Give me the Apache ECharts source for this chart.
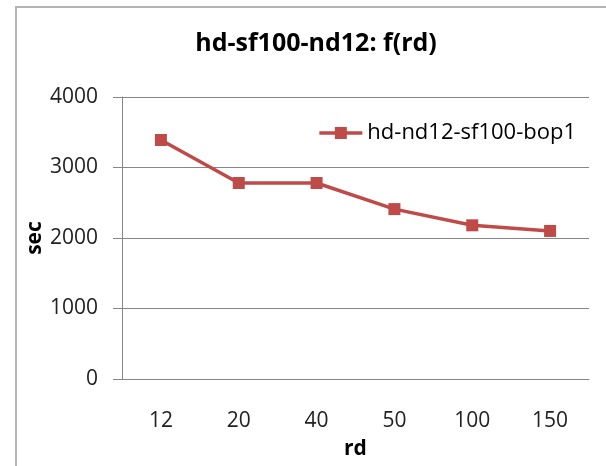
<!DOCTYPE html>
<html>
<head>
<meta charset="utf-8">
<script src="https://cdn.jsdelivr.net/npm/echarts@6/dist/echarts.min.js"></script>
<style>
  html, body { margin: 0; padding: 0; background: #fff; }
  #chart { width: 606px; height: 466px; }
</style>
</head>
<body>
<div id="chart"></div>
<script>
const categories = ["12", "20", "40", "50", "100", "150"];
const seriesName = "hd-nd12-sf100-bop1";
const seriesValues = [3390, 2780, 2780, 2410, 2180, 2100];
const yTicks = [0, 1000, 2000, 3000, 4000];

const lineColor = "#BE4B48";
const gridColor = "#868686";
const font = "'Open Sans', sans-serif";

const chart = echarts.init(document.getElementById("chart"), null, { renderer: "canvas" });

chart.setOption({
  backgroundColor: "#fff",
  animation: false,
  graphic: [{
    type: "rect",
    shape: { x: 16, y: 7, width: 640, height: 520 },
    style: { fill: "none", stroke: "#b4b4b4", lineWidth: 2 },
    silent: true
  }],
  title: {
    text: "hd-sf100-nd12: f(rd)",
    left: 311,
    textAlign: "center",
    top: 26,
    textStyle: { fontFamily: font, fontWeight: "bold", fontSize: 25, color: "#000" }
  },
  legend: {
    data: [seriesName],
    right: 25,
    top: 117,
    itemWidth: 43,
    itemHeight: 15,
    lineStyle: { width: 3.5 },
    textStyle: { fontFamily: font, fontSize: 22, color: "#000" }
  },
  grid: { left: 122, right: 17, top: 97, bottom: 87, outerBoundsMode: "none" },
  xAxis: {
    type: "category",
    data: categories,
    boundaryGap: true,
    name: "rd",
    nameLocation: "middle",
    nameGap: 60,
    nameMoveOverlap: false,
    nameTextStyle: { fontFamily: font, fontWeight: "bold", fontSize: 21, color: "#000" },
    axisLine: { lineStyle: { color: gridColor, width: 1 } },
    axisTick: { show: false },
    axisLabel: { margin: 32, fontFamily: font, fontSize: 21, color: "#222" }
  },
  yAxis: {
    type: "value",
    min: yTicks[0],
    max: yTicks[yTicks.length - 1],
    interval: 1000,
    name: "sec",
    nameLocation: "middle",
    nameGap: 76,
    nameMoveOverlap: false,
    nameTextStyle: { fontFamily: font, fontWeight: "bold", fontSize: 21, color: "#000" },
    axisLine: { show: true, lineStyle: { color: gridColor, width: 1 } },
    axisTick: { show: true, length: 9, lineStyle: { color: gridColor } },
    axisLabel: {
      margin: 24, fontFamily: font, fontSize: 21, color: "#222",
      formatter: (v) => String(v)
    },
    splitLine: { lineStyle: { color: gridColor, width: 1 } }
  },
  series: [{
    type: "line",
    name: seriesName,
    data: seriesValues,
    color: lineColor,
    symbol: "rect",
    symbolSize: 12,
    lineStyle: { width: 3.5, color: lineColor },
    itemStyle: { color: lineColor }
  }]
});
</script>
</body>
</html>
